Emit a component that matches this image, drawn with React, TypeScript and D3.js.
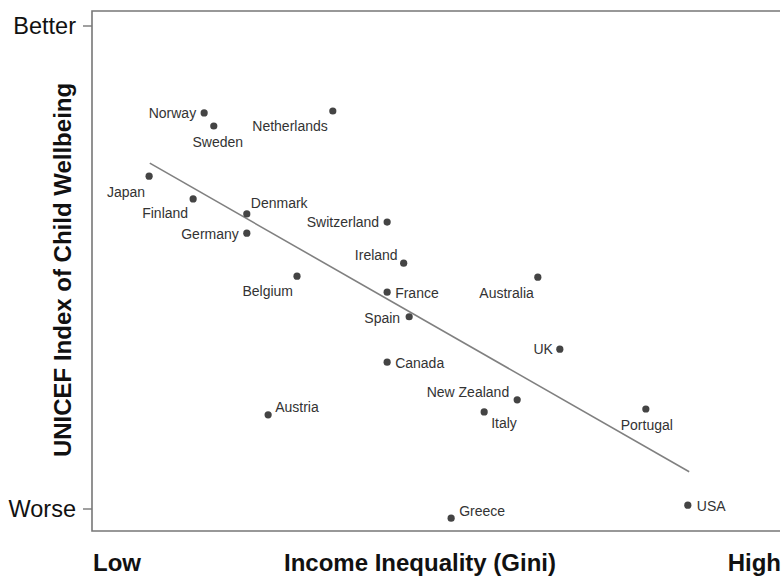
import React from "react";
import * as d3 from "d3";

// Data (unitless positions on Gini / wellbeing index, 0 = Low/Worse, 100 = High/Better)
const countries = [
  "Norway", "Sweden", "Netherlands", "Japan", "Finland", "Denmark", "Germany",
  "Switzerland", "Ireland", "Belgium", "France", "Australia", "Spain", "UK",
  "Canada", "New Zealand", "Italy", "Austria", "Portugal", "Greece", "USA",
];
const inequality = [
  16.3, 17.7, 35.0, 8.3, 14.7, 22.5, 22.5,
  42.9, 45.3, 29.8, 42.9, 64.8, 46.1, 68.0,
  42.9, 61.8, 57.0, 25.6, 80.5, 52.2, 86.6,
];
const wellbeing = [
  82.0, 79.3, 82.4, 68.9, 64.2, 61.1, 57.1,
  59.4, 50.9, 48.2, 44.9, 48.0, 39.8, 33.1,
  30.4, 22.6, 20.1, 19.5, 20.7, -1.9, 0.8,
];
const trendX = [8.4, 86.8];
const trendY = [71.6, 7.7];
const yTickValues = [100, 0];
const yTickLabels = ["Better", "Worse"];
const xEndLabels = ["Low", "High"];

// label placement (style, not data): [dx, dy, anchor]
const labelPlacement: Record<string, [number, number, string]> = {
  Norway: [-8, 0, "end"],
  Sweden: [4, 16, "middle"],
  Netherlands: [-5, 15, "end"],
  Japan: [-4, 16, "end"],
  Finland: [-5, 14, "end"],
  Denmark: [4, -11, "start"],
  Germany: [-8, 1, "end"],
  Switzerland: [-8, 0, "end"],
  Ireland: [-6, -8, "end"],
  Belgium: [-4, 15, "end"],
  France: [8, 1, "start"],
  Australia: [-4, 16, "end"],
  Spain: [-9, 1, "end"],
  UK: [-7, 0, "end"],
  Canada: [8, 1, "start"],
  "New Zealand": [-8, -8, "end"],
  Italy: [7, 11, "start"],
  Austria: [7, -8, "start"],
  Portugal: [1, 16, "middle"],
  Greece: [8, -7, "start"],
  USA: [9, 1, "start"],
};

const W = 783;
const H = 579;
const left = 92;
const right = 780;
const top = 11;
const bottom = 531;

export default function App() {
  const x = d3.scaleLinear().domain([0, 100]).range([left, right]);
  const y = d3.scaleLinear().domain([0, 100]).range([509, 26]);
  const font = "Liberation Sans, Arial, sans-serif";
  const trend = d3
    .line<number>()
    .x((d) => x(trendX[d]))
    .y((d) => y(trendY[d]))([0, 1]);

  return (
    <svg
      width={W}
      height={H}
      style={{ position: "absolute", left: 0, top: 0, background: "#fff" }}
      fontFamily={font}
    >
      {/* frame */}
      <path
        d={`M${right},${top}H${left}V${bottom}H${right}`}
        fill="none"
        stroke="#777"
        strokeWidth={1.6}
      />
      {/* y ticks */}
      {yTickValues.map((v, i) => (
        <g key={v}>
          <line x1={left - 9} x2={left} y1={y(v)} y2={y(v)} stroke="#777" strokeWidth={1.4} />
          <text x={left - 16} y={y(v) + 8} textAnchor="end" fontSize={23.5} fill="#111">
            {yTickLabels[i]}
          </text>
        </g>
      ))}
      {/* y title */}
      <text
        transform={`translate(71,270) rotate(-90)`}
        textAnchor="middle"
        fontSize={24}
        fontWeight="bold"
        fill="#111"
      >
        UNICEF Index of Child Wellbeing
      </text>
      {/* x labels */}
      <text x={93} y={571} fontSize={24} fontWeight="bold" fill="#111">
        {xEndLabels[0]}
      </text>
      <text x={420} y={571} textAnchor="middle" fontSize={24} fontWeight="bold" fill="#111">
        Income Inequality (Gini)
      </text>
      <text x={781} y={571} textAnchor="end" fontSize={24} fontWeight="bold" fill="#111">
        {xEndLabels[1]}
      </text>
      {/* trend line */}
      <path d={trend || ""} fill="none" stroke="#808080" strokeWidth={1.6} />
      {/* points */}
      {countries.map((c, i) => {
        const cx = x(inequality[i]);
        const cy = y(wellbeing[i]);
        const [dx, dy, anchor] = labelPlacement[c];
        return (
          <g key={c}>
            <circle cx={cx} cy={cy} r={3.6} fill="#444" />
            <text
              x={cx + dx}
              y={cy + dy + 5}
              textAnchor={anchor as any}
              fontSize={14}
              fill="#333"
            >
              {c}
            </text>
          </g>
        );
      })}
    </svg>
  );
}
